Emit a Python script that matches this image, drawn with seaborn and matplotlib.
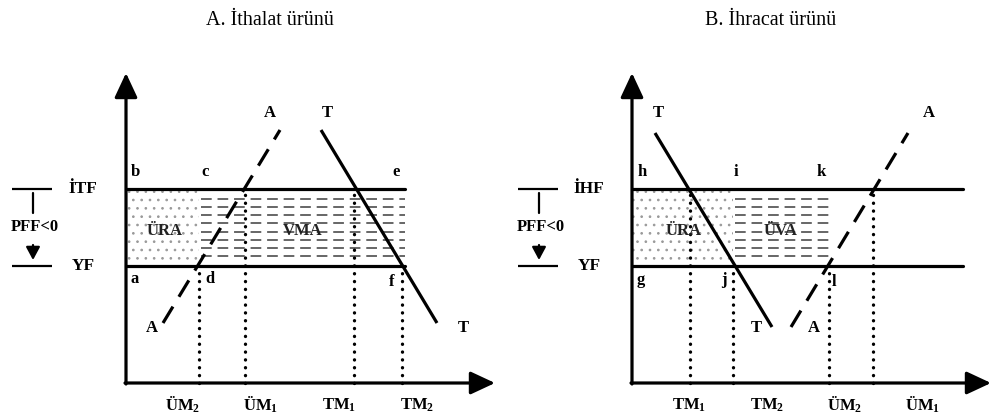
import numpy as np
import pandas as pd
import seaborn as sns
import matplotlib
matplotlib.use('Agg')
from matplotlib import pyplot as plt
from matplotlib.patches import Rectangle

# price levels (distance above the origin)
world_price = 117        # YF
tariff_price = 194       # İTF (import good, panel A)
subsidy_price = 194      # İHF (export good, panel B)

# panel A: import good, curve end points (x, y)
a_supply = [(37, 60), (154, 253)]      # A (arz), dashed
a_demand = [(195, 253), (311, 60)]     # T (talep)
a_quantities = {"ÜM2": 73, "ÜM1": 119, "TM1": 228, "TM2": 276}
a_qty_on_price = {"ÜM2": "low", "ÜM1": "high", "TM1": "high", "TM2": "low"}
a_price_line_end = 279
a_axis_len = (369, 310)
a_tick_labels = [r"ÜM$_\mathbf{2}$", r"ÜM$_\mathbf{1}$", r"TM$_\mathbf{1}$", r"TM$_\mathbf{2}$"]

# panel B: export good
b_demand = [(23, 250), (140, 56)]      # T (talep)
b_supply = [(159, 56), (276, 250)]     # A (arz), dashed
b_quantities = {"TM1": 58, "TM2": 101, "ÜM2": 197, "ÜM1": 241}
b_qty_on_price = {"TM1": "high", "TM2": "low", "ÜM2": "low", "ÜM1": "high"}
b_price_line_end = 331
b_axis_len = (359, 310)
b_tick_labels = [r"TM$_\mathbf{1}$", r"TM$_\mathbf{2}$", r"ÜM$_\mathbf{2}$", r"ÜM$_\mathbf{1}$"]

tick_label_x = [57, 135, 213, 291]

sns.set_theme(style="white")
plt.rcParams['font.family'] = ['Liberation Serif', 'DejaVu Serif']
plt.rcParams['text.color'] = 'black'
plt.rcParams['mathtext.fontset'] = 'custom'
plt.rcParams['mathtext.rm'] = 'Liberation Serif:bold'
plt.rcParams['mathtext.bf'] = 'Liberation Serif:bold'
plt.rcParams['mathtext.it'] = 'Liberation Serif:bold'
plt.rcParams['hatch.color'] = '#999999'
plt.rcParams['hatch.linewidth'] = 0.7

fig = plt.figure(figsize=(9.92, 4.17), dpi=100)
fig.patch.set_facecolor('white')

LW = 2.3
FS = 12.5


def arrow(ax, start, end, lw=LW, scale=20, hl=0.75, hw=0.35):
    ax.annotate("", xy=end, xytext=start,
                arrowprops=dict(arrowstyle=f"-|>,head_length={hl},head_width={hw}",
                                lw=lw, color='black', mutation_scale=scale,
                                shrinkA=0, shrinkB=0))


def draw_frame(ax, axis_len, high_name, high_price):
    # axes with arrows
    arrow(ax, (0, -1), (0, axis_len[1]))
    arrow(ax, (-1, 0), (axis_len[0], 0))
    # left side legend of the price gap
    for p in (high_price, world_price):
        ax.plot([-114, -74], [p, p], color='black', lw=1.6, solid_capstyle='butt')
    ax.plot([-93, -93], [high_price - 4, high_price - 24], color='black', lw=1.6)
    arrow(ax, (-93, high_price - 56), (-93, world_price + 6), lw=1.6, scale=12, hl=0.65, hw=0.35)
    ax.text(-91, (high_price + world_price) / 2 + 1, "PFF<0", ha='center', va='center',
            fontsize=12, fontweight='bold')
    ax.text(-43, high_price, high_name, ha='center', va='center', fontsize=FS, fontweight='bold')
    ax.text(-43, world_price, "YF", ha='center', va='center', fontsize=FS, fontweight='bold')


def dashed_rows(ax, x0, x1, high_price):
    rows = np.linspace(world_price + 10, high_price - 10, 8)
    ax.hlines(rows, x0, x1, colors='#666666', lw=1.4, linestyles=(0, (5.5, 3.0)))


def vertical_dots(ax, quantities, on_price, high_price):
    for name, q in quantities.items():
        top = high_price if on_price[name] == "high" else world_price
        ax.plot([q, q], [0, top], color='black', lw=2.4,
                linestyle=(0, (0.05, 2.3)), dash_capstyle='round')


def curve(ax, pts, dashed=False):
    xs = [p[0] for p in pts]
    ys = [p[1] for p in pts]
    line = sns.lineplot(x=xs, y=ys, ax=ax, color='black', lw=LW, sort=False)
    if dashed:
        line.lines[-1].set_dashes((6.0, 3.6))
    line.lines[-1].set_solid_capstyle('butt')
    line.lines[-1].set_dash_capstyle('butt')


def setup(ax, x_left):
    ax.set_xlim(x_left, x_left + 496)
    ax.set_ylim(-34, 383)
    ax.axis('off')


def bold(ax, x, y, s, fs=FS, color='black'):
    ax.text(x, y, s, ha='center', va='center', fontsize=fs, fontweight='bold', color=color)


# ---------------- panel A ----------------
axA = fig.add_axes([0, 0, 0.5, 1])
setup(axA, -126)
axA.add_patch(Rectangle((0, world_price), a_quantities["ÜM2"], tariff_price - world_price,
                        facecolor='white', edgecolor='#999999', hatch='..', lw=0, zorder=0))
dashed_rows(axA, a_quantities["ÜM2"] + 2, a_price_line_end, tariff_price)
vertical_dots(axA, a_quantities, a_qty_on_price, tariff_price)
axA.plot([0, a_price_line_end], [tariff_price, tariff_price], color='black', lw=LW)
axA.plot([0, a_price_line_end], [world_price, world_price], color='black', lw=LW)
curve(axA, a_supply, dashed=True)
curve(axA, a_demand)
draw_frame(axA, a_axis_len, "İTF", tariff_price)
bold(axA, 39, 152, "ÜRA", fs=12, color='#222222')
bold(axA, 177, 152, "VMA", fs=12, color='#222222')
for s, x, y in [("b", 9, 211), ("c", 79, 211), ("e", 270, 211),
                ("a", 9, 104), ("d", 84, 104), ("f", 266, 101),
                ("A", 144, 270), ("T", 201, 270), ("A", 26, 55), ("T", 337, 55)]:
    bold(axA, x, y, s, fs=12)
for s, x in zip(a_tick_labels, tick_label_x):
    bold(axA, x, -22, s, fs=12)
axA.text(144, 363, "A. İthalat ürünü", ha='center', va='center', fontsize=14.5)

# ---------------- panel B ----------------
axB = fig.add_axes([0.5, 0, 0.5, 1])
setup(axB, -136)
axB.add_patch(Rectangle((0, world_price), b_quantities["TM2"], subsidy_price - world_price,
                        facecolor='white', edgecolor='#999999', hatch='..', lw=0, zorder=0))
dashed_rows(axB, b_quantities["TM2"] + 2, b_quantities["ÜM2"], subsidy_price)
vertical_dots(axB, b_quantities, b_qty_on_price, subsidy_price)
axB.plot([0, b_price_line_end], [subsidy_price, subsidy_price], color='black', lw=LW)
axB.plot([0, b_price_line_end], [world_price, world_price], color='black', lw=LW)
curve(axB, b_demand)
curve(axB, b_supply, dashed=True)
draw_frame(axB, b_axis_len, "İHF", subsidy_price)
bold(axB, 52, 152, "ÜRA", fs=12, color='#222222')
bold(axB, 149, 152, "ÜVA", fs=12, color='#222222')
for s, x, y in [("h", 10, 211), ("i", 104, 211), ("k", 189, 211),
                ("g", 9, 103), ("j", 92, 103), ("l", 202, 101),
                ("T", 26, 270), ("A", 297, 270), ("T", 124, 55), ("A", 182, 55)]:
    bold(axB, x, y, s, fs=12)
for s, x in zip(b_tick_labels, tick_label_x):
    bold(axB, x, -22, s, fs=12)
axB.text(139, 363, "B. İhracat ürünü", ha='center', va='center', fontsize=14.5)

fig.savefig("out.png", dpi=100, facecolor='white')
